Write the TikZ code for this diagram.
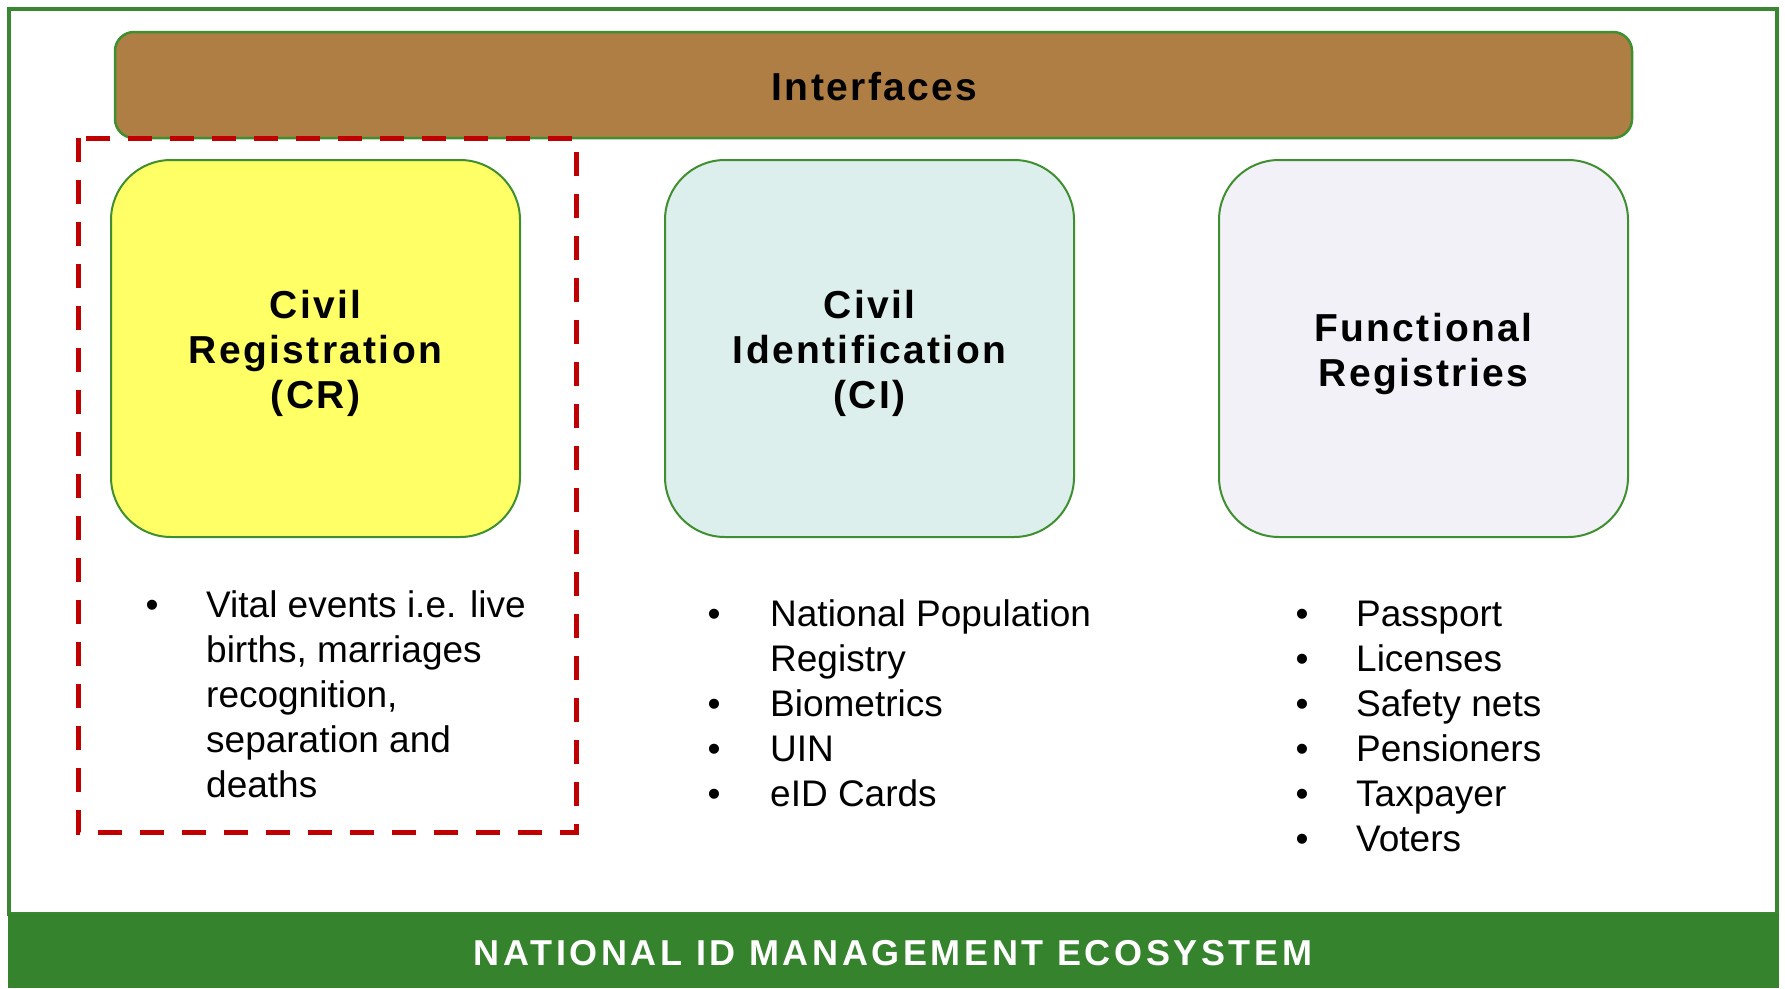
\documentclass[tikz,border=0pt]{standalone}
\usepackage{fontspec}
\setmainfont{Liberation Sans}
\newfontfamily\hfont{Liberation Sans}[LetterSpace=6]
\newfontfamily\bandfont{Liberation Sans}[LetterSpace=10]
\definecolor{frameg}{HTML}{3A8731}
\definecolor{bandg}{HTML}{35832D}
\definecolor{boxg}{HTML}{3F8F30}
\definecolor{brownbar}{HTML}{AE7E45}
\definecolor{crfill}{HTML}{FFFF66}
\definecolor{cifill}{HTML}{DDEFEC}
\definecolor{frfill}{HTML}{F2F1F7}
\definecolor{reddash}{HTML}{C00000}
\tikzset{
  regbox/.style={draw=boxg, line width=2pt, rounded corners=60pt, minimum width=409pt, minimum height=377pt, inner sep=0pt},
  ifbox/.style={draw=boxg, fill=brownbar, line width=2.5pt, rounded corners=19pt, minimum width=1517pt, minimum height=106pt, inner sep=0pt},
  hlabel/.style={anchor=base, inner sep=0pt, font=\hfont\bfseries\fontsize{39}{45}\selectfont},
  blist/.style={anchor=base west, inner sep=0pt, font=\fontsize{37}{45}\selectfont},
  crdash/.style={draw=reddash, line width=5pt, dash pattern=on 24pt off 18pt}
}
\begin{document}
\begin{tikzpicture}[x=1pt,y=-1pt]
\useasboundingbox (0,0) rectangle (1785,988);
\fill[white] (0,0) rectangle (1785,988);
% outer frame and band
\draw[frameg, line width=3.5pt] (9,9) rectangle (1777,914);
\fill[bandg] (7.5,914) rectangle (1778.5,988);
\node[anchor=base, inner sep=0pt, text=white, font=\bandfont\bfseries\fontsize{36}{40}\selectfont] (band) at (893,965) {NATIONAL ID MANAGEMENT ECOSYSTEM};
% interfaces
\node[ifbox] (ifc) at (873.5,85) {};
\node[hlabel] (ifct) at (874.5,100.7) {Interfaces};
% three boxes
\node[regbox, fill=crfill] (cr) at (315.5,348.5) {};
\node[regbox, fill=cifill] (ci) at (869.5,348.5) {};
\node[regbox, fill=frfill] (fr) at (1423.5,348.5) {};
\node[hlabel] (crt) at (315.5,318) {\begin{tabular}[t]{@{}c@{}}Civil\\Registration\\(CR)\end{tabular}};
\node[hlabel] (cit) at (869.5,318) {\begin{tabular}[t]{@{}c@{}}Civil\\Identification\\(CI)\end{tabular}};
\node[hlabel] (frt) at (1423.5,341.7) {\begin{tabular}[t]{@{}c@{}}Functional\\Registries\end{tabular}};
% bullet lists
\node[blist] (crl) at (145.5,617) {\begin{tabular}[t]{@{}l@{}l@{}}
\makebox[60.5pt][l]{•} & Vital events i.e. live\\
 & births, marriages\\
 & recognition,\\
 & separation and\\
 & deaths\end{tabular}};
\node[blist] (cil) at (707.5,626) {\begin{tabular}[t]{@{}l@{}l@{}}
\makebox[62.5pt][l]{•} & National Population\\
 & Registry\\
\makebox[62.5pt][l]{•} & Biometrics\\
\makebox[62.5pt][l]{•} & UIN\\
\makebox[62.5pt][l]{•} & eID Cards\end{tabular}};
\node[blist] (frl) at (1295.5,626) {\begin{tabular}[t]{@{}l@{}l@{}}
\makebox[60.5pt][l]{•} & Passport\\
\makebox[60.5pt][l]{•} & Licenses\\
\makebox[60.5pt][l]{•} & Safety nets\\
\makebox[60.5pt][l]{•} & Pensioners\\
\makebox[60.5pt][l]{•} & Taxpayer\\
\makebox[60.5pt][l]{•} & Voters\end{tabular}};
% red dashed highlight
\draw[crdash] (78,138) rectangle (576,832);
\end{tikzpicture}
\end{document}
